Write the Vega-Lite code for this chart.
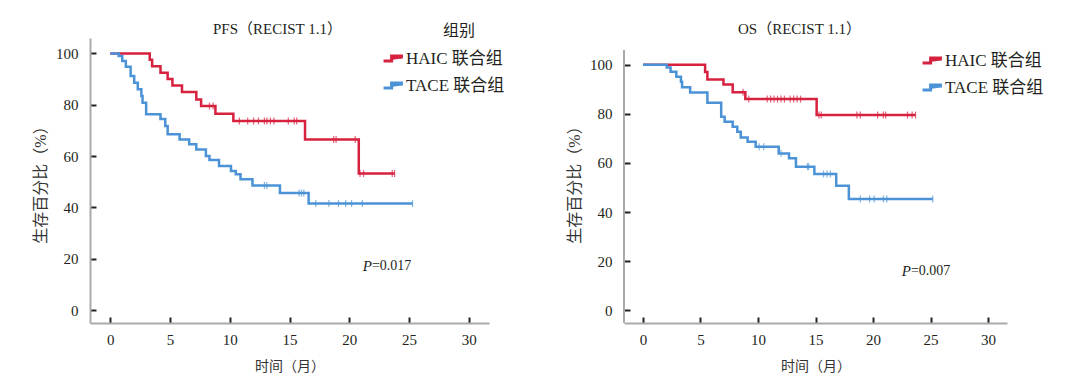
{
  "$schema": "https://vega.github.io/schema/vega-lite/v6.json",
  "padding": {"left": 32, "top": 22, "right": 5, "bottom": 5},
  "background": "white",
  "config": {
    "font": "Liberation Serif, Noto Sans CJK SC",
    "view": {"stroke": null},
    "axis": {
      "grid": false,
      "domainColor": "#aaaaaa",
      "domainWidth": 2,
      "tickColor": "#222222",
      "tickWidth": 2,
      "tickSize": -6,
      "labelFont": "Liberation Serif",
      "labelFontSize": 15,
      "labelColor": "#231f20",
      "titleFont": "Liberation Serif, Noto Sans CJK SC",
      "titleFontSize": 15,
      "titleFontWeight": "normal",
      "titleColor": "#333333"
    },
    "legend": {
      "labelFont": "Liberation Serif, Noto Sans CJK SC",
      "labelFontSize": 17,
      "labelColor": "#231f20",
      "titleFont": "Noto Sans CJK SC",
      "titleFontSize": 16,
      "titleFontWeight": "normal",
      "titleColor": "#231f20",
      "symbolType": "M-1,0.28H-0.1V-0.28H1V0",
      "symbolSize": 320,
      "symbolStrokeWidth": 3,
      "symbolFillColor": "transparent",
      "rowPadding": 7,
      "labelOffset": 3
    },
    "title": {
      "font": "Liberation Serif, Noto Sans CJK SC",
      "fontSize": 15,
      "fontWeight": "normal",
      "color": "#231f20",
      "frame": "group"
    }
  },
  "datasets": {
    "pfs": [
      {"group": "HAIC 联合组", "t": 0, "s": 100},
      {"group": "HAIC 联合组", "t": 3.3, "s": 97.5},
      {"group": "HAIC 联合组", "t": 3.5, "s": 95},
      {"group": "HAIC 联合组", "t": 4.2, "s": 92.5},
      {"group": "HAIC 联合组", "t": 4.8, "s": 90},
      {"group": "HAIC 联合组", "t": 5.2, "s": 87.5},
      {"group": "HAIC 联合组", "t": 6.0, "s": 85},
      {"group": "HAIC 联合组", "t": 7.2, "s": 82},
      {"group": "HAIC 联合组", "t": 7.6, "s": 79.5},
      {"group": "HAIC 联合组", "t": 8.8, "s": 76.5},
      {"group": "HAIC 联合组", "t": 10.3, "s": 73.7},
      {"group": "HAIC 联合组", "t": 16.3, "s": 66.5},
      {"group": "HAIC 联合组", "t": 20.8, "s": 53.2},
      {"group": "HAIC 联合组", "t": 23.8, "s": 53.2},
      {"group": "TACE 联合组", "t": 0, "s": 100},
      {"group": "TACE 联合组", "t": 0.7, "s": 99},
      {"group": "TACE 联合组", "t": 1.0, "s": 97},
      {"group": "TACE 联合组", "t": 1.3, "s": 94.8},
      {"group": "TACE 联合组", "t": 1.7, "s": 91.2},
      {"group": "TACE 联合组", "t": 2.0, "s": 88.6},
      {"group": "TACE 联合组", "t": 2.3, "s": 86},
      {"group": "TACE 联合组", "t": 2.6, "s": 83.4},
      {"group": "TACE 联合组", "t": 2.7, "s": 80.8},
      {"group": "TACE 联合组", "t": 3.0, "s": 76.3},
      {"group": "TACE 联合组", "t": 4.2, "s": 74.5},
      {"group": "TACE 联合组", "t": 4.6, "s": 71.7},
      {"group": "TACE 联合组", "t": 4.8, "s": 68.5},
      {"group": "TACE 联合组", "t": 5.8, "s": 66.5},
      {"group": "TACE 联合组", "t": 6.6, "s": 64.6},
      {"group": "TACE 联合组", "t": 7.2, "s": 62.6},
      {"group": "TACE 联合组", "t": 8.0, "s": 60},
      {"group": "TACE 联合组", "t": 8.3, "s": 58.5},
      {"group": "TACE 联合组", "t": 9.1, "s": 56.1},
      {"group": "TACE 联合组", "t": 10.1, "s": 54.2},
      {"group": "TACE 联合组", "t": 10.5, "s": 52.9},
      {"group": "TACE 联合组", "t": 10.9, "s": 51},
      {"group": "TACE 联合组", "t": 11.9, "s": 48.6},
      {"group": "TACE 联合组", "t": 14.2, "s": 45.6},
      {"group": "TACE 联合组", "t": 16.6, "s": 41.5},
      {"group": "TACE 联合组", "t": 25.3, "s": 41.5}
    ],
    "pfs_c": [
      {"group": "HAIC 联合组", "t": 8.3, "s": 79.5},
      {"group": "HAIC 联合组", "t": 8.6, "s": 79.5},
      {"group": "HAIC 联合组", "t": 10.8, "s": 73.7},
      {"group": "HAIC 联合组", "t": 11.5, "s": 73.7},
      {"group": "HAIC 联合组", "t": 12.0, "s": 73.7},
      {"group": "HAIC 联合组", "t": 12.4, "s": 73.7},
      {"group": "HAIC 联合组", "t": 12.9, "s": 73.7},
      {"group": "HAIC 联合组", "t": 13.1, "s": 73.7},
      {"group": "HAIC 联合组", "t": 13.4, "s": 73.7},
      {"group": "HAIC 联合组", "t": 13.7, "s": 73.7},
      {"group": "HAIC 联合组", "t": 14.9, "s": 73.7},
      {"group": "HAIC 联合组", "t": 15.4, "s": 73.7},
      {"group": "HAIC 联合组", "t": 15.6, "s": 73.7},
      {"group": "HAIC 联合组", "t": 18.7, "s": 66.5},
      {"group": "HAIC 联合组", "t": 18.9, "s": 66.5},
      {"group": "HAIC 联合组", "t": 20.5, "s": 66.5},
      {"group": "HAIC 联合组", "t": 20.9, "s": 53.2},
      {"group": "HAIC 联合组", "t": 21.2, "s": 53.2},
      {"group": "HAIC 联合组", "t": 23.6, "s": 53.2},
      {"group": "HAIC 联合组", "t": 23.8, "s": 53.2},
      {"group": "TACE 联合组", "t": 12.9, "s": 48.6},
      {"group": "TACE 联合组", "t": 13.1, "s": 48.6},
      {"group": "TACE 联合组", "t": 15.8, "s": 45.6},
      {"group": "TACE 联合组", "t": 16.0, "s": 45.6},
      {"group": "TACE 联合组", "t": 16.2, "s": 45.6},
      {"group": "TACE 联合组", "t": 17.2, "s": 41.5},
      {"group": "TACE 联合组", "t": 18.3, "s": 41.5},
      {"group": "TACE 联合组", "t": 19.1, "s": 41.5},
      {"group": "TACE 联合组", "t": 19.7, "s": 41.5},
      {"group": "TACE 联合组", "t": 20.2, "s": 41.5},
      {"group": "TACE 联合组", "t": 21.1, "s": 41.5},
      {"group": "TACE 联合组", "t": 25.3, "s": 41.5}
    ],
    "os": [
      {"group": "HAIC 联合组", "t": 0, "s": 100},
      {"group": "HAIC 联合组", "t": 5.4, "s": 97},
      {"group": "HAIC 联合组", "t": 5.6, "s": 94},
      {"group": "HAIC 联合组", "t": 7.0, "s": 92},
      {"group": "HAIC 联合组", "t": 7.8, "s": 88.8},
      {"group": "HAIC 联合组", "t": 8.9, "s": 86},
      {"group": "HAIC 联合组", "t": 15.1, "s": 79.5},
      {"group": "HAIC 联合组", "t": 23.7, "s": 79.5},
      {"group": "TACE 联合组", "t": 0, "s": 100},
      {"group": "TACE 联合组", "t": 2.06, "s": 98.9},
      {"group": "TACE 联合组", "t": 2.4, "s": 97.2},
      {"group": "TACE 联合组", "t": 2.9, "s": 95.1},
      {"group": "TACE 联合组", "t": 3.3, "s": 93.1},
      {"group": "TACE 联合组", "t": 3.4, "s": 90.8},
      {"group": "TACE 联合组", "t": 4.1, "s": 88.7},
      {"group": "TACE 联合组", "t": 5.6, "s": 84.5},
      {"group": "TACE 联合组", "t": 6.8, "s": 78.8},
      {"group": "TACE 联合组", "t": 7.1, "s": 76.8},
      {"group": "TACE 联合组", "t": 7.8, "s": 74.7},
      {"group": "TACE 联合组", "t": 8.2, "s": 72.7},
      {"group": "TACE 联合组", "t": 8.5, "s": 70.4},
      {"group": "TACE 联合组", "t": 9.1, "s": 68.6},
      {"group": "TACE 联合组", "t": 9.8, "s": 66.6},
      {"group": "TACE 联合组", "t": 11.8, "s": 63.9},
      {"group": "TACE 联合组", "t": 12.7, "s": 61.9},
      {"group": "TACE 联合组", "t": 13.3, "s": 58.5},
      {"group": "TACE 联合组", "t": 14.9, "s": 55.5},
      {"group": "TACE 联合组", "t": 16.8, "s": 50.7},
      {"group": "TACE 联合组", "t": 17.9, "s": 45.3},
      {"group": "TACE 联合组", "t": 25.2, "s": 45.3}
    ],
    "os_c": [
      {"group": "HAIC 联合组", "t": 8.7, "s": 88.8},
      {"group": "HAIC 联合组", "t": 9.2, "s": 86},
      {"group": "HAIC 联合组", "t": 10.8, "s": 86},
      {"group": "HAIC 联合组", "t": 11.1, "s": 86},
      {"group": "HAIC 联合组", "t": 11.4, "s": 86},
      {"group": "HAIC 联合组", "t": 11.7, "s": 86},
      {"group": "HAIC 联合组", "t": 12.0, "s": 86},
      {"group": "HAIC 联合组", "t": 12.3, "s": 86},
      {"group": "HAIC 联合组", "t": 12.8, "s": 86},
      {"group": "HAIC 联合组", "t": 13.1, "s": 86},
      {"group": "HAIC 联合组", "t": 13.4, "s": 86},
      {"group": "HAIC 联合组", "t": 13.7, "s": 86},
      {"group": "HAIC 联合组", "t": 15.3, "s": 79.5},
      {"group": "HAIC 联合组", "t": 15.5, "s": 79.5},
      {"group": "HAIC 联合组", "t": 18.6, "s": 79.5},
      {"group": "HAIC 联合组", "t": 18.9, "s": 79.5},
      {"group": "HAIC 联合组", "t": 20.4, "s": 79.5},
      {"group": "HAIC 联合组", "t": 20.9, "s": 79.5},
      {"group": "HAIC 联合组", "t": 21.1, "s": 79.5},
      {"group": "HAIC 联合组", "t": 23.0, "s": 79.5},
      {"group": "HAIC 联合组", "t": 23.4, "s": 79.5},
      {"group": "HAIC 联合组", "t": 23.7, "s": 79.5},
      {"group": "TACE 联合组", "t": 10.1, "s": 66.6},
      {"group": "TACE 联合组", "t": 10.5, "s": 66.6},
      {"group": "TACE 联合组", "t": 12.0, "s": 63.9},
      {"group": "TACE 联合组", "t": 14.3, "s": 58.5},
      {"group": "TACE 联合组", "t": 14.4, "s": 58.5},
      {"group": "TACE 联合组", "t": 15.7, "s": 55.5},
      {"group": "TACE 联合组", "t": 16.0, "s": 55.5},
      {"group": "TACE 联合组", "t": 16.3, "s": 55.5},
      {"group": "TACE 联合组", "t": 18.9, "s": 45.3},
      {"group": "TACE 联合组", "t": 19.7, "s": 45.3},
      {"group": "TACE 联合组", "t": 20.1, "s": 45.3},
      {"group": "TACE 联合组", "t": 20.9, "s": 45.3},
      {"group": "TACE 联合组", "t": 21.2, "s": 45.3},
      {"group": "TACE 联合组", "t": 25.2, "s": 45.3}
    ]
  },
  "resolve": {"scale": {"color": "independent"}, "legend": {"color": "independent"}},
  "spacing": 61,
  "hconcat": [
    {
      "width": 399,
      "height": 285,
      "title": {"text": "PFS（RECIST 1.1）", "offset": -14, "dx": -12},
      "layer": [
        {
          "data": {"name": "pfs"},
          "mark": {"type": "line", "interpolate": "step-after", "strokeWidth": 2.5},
          "encoding": {
            "x": {"field": "t", "type": "quantitative", "title": "时间（月）",
                  "scale": {"domain": [-1.7, 31.7], "nice": false, "zero": false},
                  "axis": {"values": [0, 5, 10, 15, 20, 25, 30], "labelPadding": 15, "titlePadding": 12, "titleFontSize": 14}},
            "y": {"field": "s", "type": "quantitative", "title": "生存百分比（%）",
                  "scale": {"domain": [-5, 106], "nice": false, "zero": false},
                  "axis": {"values": [0, 20, 40, 60, 80, 100], "labelPadding": 18, "titlePadding": 7, "titleFontSize": 16}},
            "color": {"field": "group", "type": "nominal",
                      "scale": {"domain": ["HAIC 联合组", "TACE 联合组"], "range": ["#d6213f", "#4b93d6"]},
                      "legend": {"title": "组别", "orient": "none", "legendX": 292, "legendY": -15,
                                 "titleAnchor": "middle", "titleAlign": "left", "titlePadding": 9}}
          }
        },
        {
          "data": {"name": "pfs_c"},
          "mark": {"type": "tick", "orient": "vertical", "size": 7, "thickness": 1.2},
          "encoding": {
            "x": {"field": "t", "type": "quantitative", "title": "时间（月）"},
            "y": {"field": "s", "type": "quantitative", "title": "生存百分比（%）"},
            "color": {"field": "group", "type": "nominal", "legend": null}
          }
        },
        {
          "data": {"values": [{"p": "P"}]},
          "mark": {"type": "text", "align": "right", "baseline": "middle", "fontSize": 15, "fontStyle": "italic", "font": "Liberation Serif", "color": "#231f20"},
          "encoding": {"x": {"datum": 21.9, "type": "quantitative"}, "y": {"datum": 17.3, "type": "quantitative"}, "text": {"field": "p", "type": "nominal"}}
        },
        {
          "data": {"values": [{"p": "=0.017"}]},
          "mark": {"type": "text", "align": "left", "baseline": "middle", "fontSize": 14, "font": "Liberation Serif", "color": "#231f20"},
          "encoding": {"x": {"datum": 21.9, "type": "quantitative"}, "y": {"datum": 17.3, "type": "quantitative"}, "text": {"field": "p", "type": "nominal"}}
        }
      ]
    },
    {
      "width": 383,
      "height": 285,
      "title": {"text": "OS（RECIST 1.1）", "offset": 1, "dx": -16},
      "layer": [
        {
          "data": {"name": "os"},
          "mark": {"type": "line", "interpolate": "step-after", "strokeWidth": 2.5},
          "encoding": {
            "x": {"field": "t", "type": "quantitative", "title": "时间（月）",
                  "scale": {"domain": [-1.65, 31.65], "nice": false, "zero": false},
                  "axis": {"values": [0, 5, 10, 15, 20, 25, 30], "labelPadding": 15, "titlePadding": 12, "titleFontSize": 14}},
            "y": {"field": "s", "type": "quantitative", "title": "生存百分比（%）",
                  "scale": {"domain": [-5.2, 110.9], "nice": false, "zero": false},
                  "axis": {"values": [0, 20, 40, 60, 80, 100], "labelPadding": 18, "titlePadding": 7, "titleFontSize": 16, "domain": false}},
            "color": {"field": "group", "type": "nominal",
                      "scale": {"domain": ["HAIC 联合组", "TACE 联合组"], "range": ["#d6213f", "#4b93d6"]},
                      "legend": {"title": null, "orient": "none", "legendX": 297, "legendY": 12}}
          }
        },
        {
          "data": {"name": "os_c"},
          "mark": {"type": "tick", "orient": "vertical", "size": 7, "thickness": 1.2},
          "encoding": {
            "x": {"field": "t", "type": "quantitative", "title": "时间（月）"},
            "y": {"field": "s", "type": "quantitative", "title": "生存百分比（%）"},
            "color": {"field": "group", "type": "nominal", "legend": null}
          }
        },
        {
          "data": {"values": [{}]},
          "mark": {"type": "rule", "color": "#aaaaaa", "strokeWidth": 2},
          "encoding": {"x": {"datum": -1.65, "type": "quantitative"}, "y": {"datum": -5.2, "type": "quantitative"}, "y2": {"datum": 106}}
        },
        {
          "data": {"values": [{"p": "P"}]},
          "mark": {"type": "text", "align": "right", "baseline": "middle", "fontSize": 15, "fontStyle": "italic", "font": "Liberation Serif", "color": "#231f20"},
          "encoding": {"x": {"datum": 23.3, "type": "quantitative"}, "y": {"datum": 16, "type": "quantitative"}, "text": {"field": "p", "type": "nominal"}}
        },
        {
          "data": {"values": [{"p": "=0.007"}]},
          "mark": {"type": "text", "align": "left", "baseline": "middle", "fontSize": 14, "font": "Liberation Serif", "color": "#231f20"},
          "encoding": {"x": {"datum": 23.3, "type": "quantitative"}, "y": {"datum": 16, "type": "quantitative"}, "text": {"field": "p", "type": "nominal"}}
        }
      ]
    }
  ]
}
